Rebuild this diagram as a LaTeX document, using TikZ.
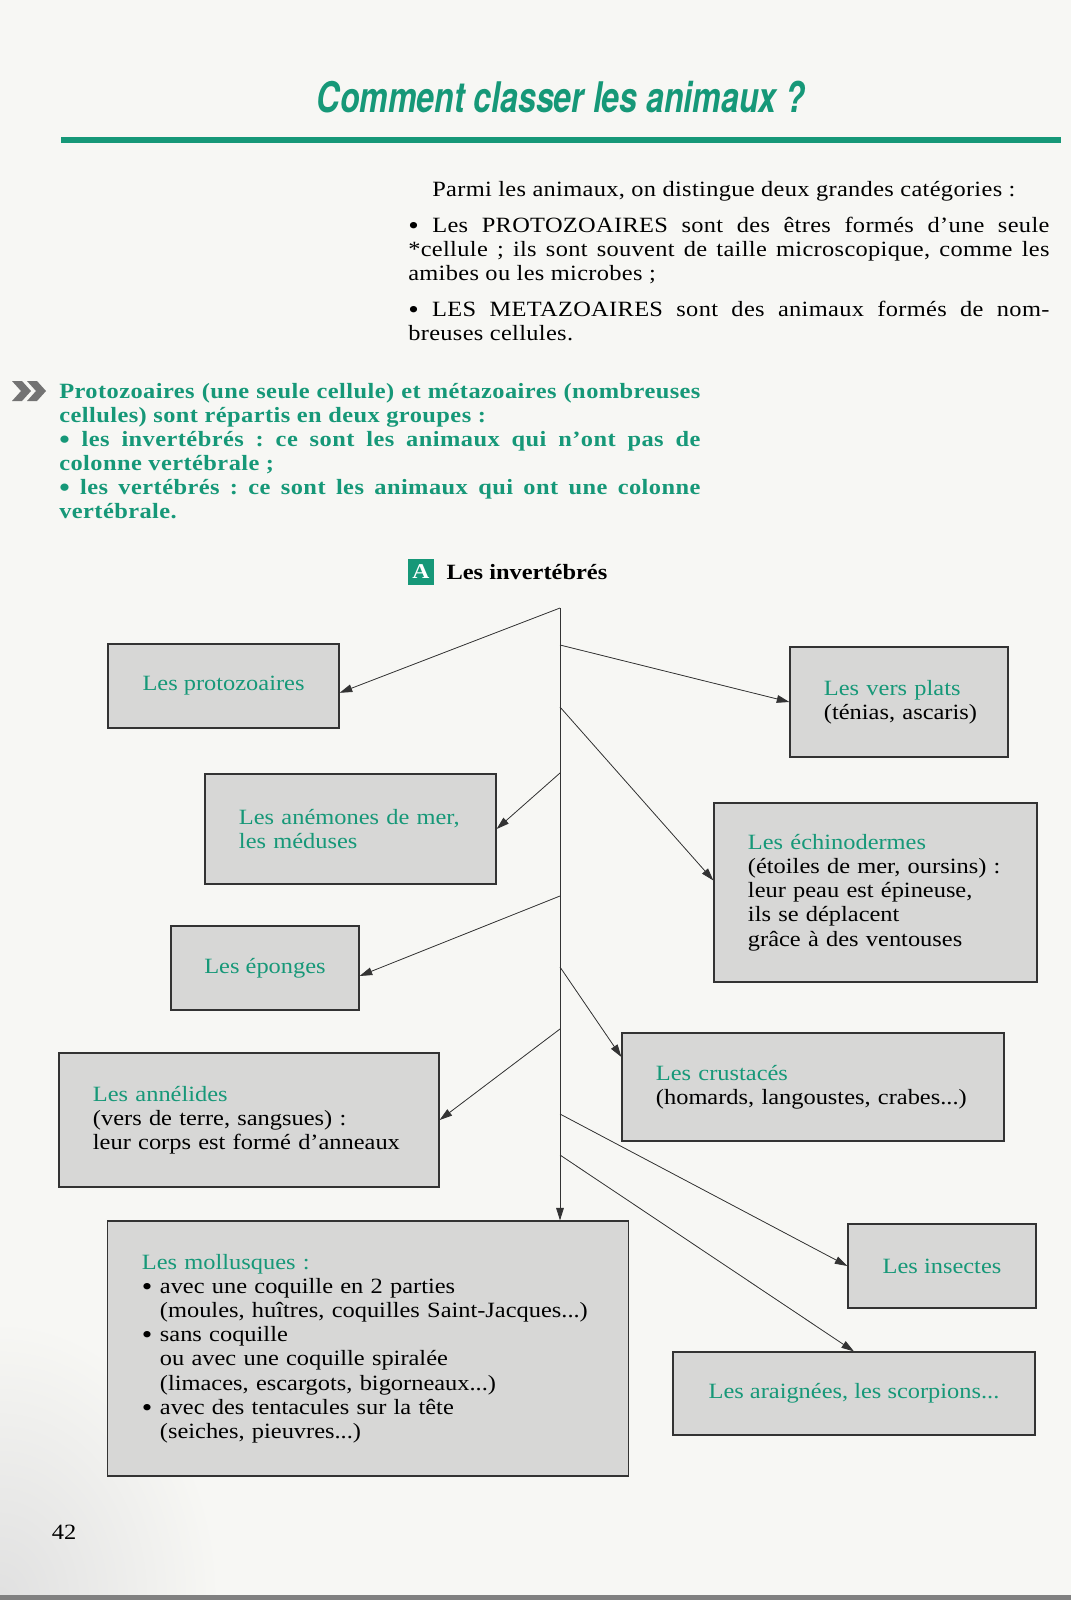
\documentclass[tikz,border=0pt]{standalone}
\usepackage{fontspec}
\setmainfont{Liberation Serif}[FakeStretch=1.12]
\newfontfamily\titrefont{TeX Gyre Heros}[FakeStretch=0.76]
\usepackage{xcolor}
\usetikzlibrary{arrows.meta, positioning}
\frenchspacing

\definecolor{vert}{RGB}{22,152,120}
\definecolor{fond}{RGB}{247,247,244}
\definecolor{gris}{RGB}{215,215,214}

\newcommand{\puce}{{\fontsize{19}{17}\selectfont\raisebox{-1.5pt}{•}}}

\begin{document}
\begin{tikzpicture}[
  x=0.025cm, y=-0.025cm,
  font=\fontsize{15.5}{17.2}\selectfont,
  boite/.style={
    draw=black!80, line width=0.8pt, fill=gris,
    align=left, inner xsep=0.85cm, inner ysep=0pt
  },
  boitec/.style={
    draw=black!80, line width=0.8pt, fill=gris,
    align=center, text=vert, inner sep=0pt
  },
  fleche/.style={
    -{Triangle[length=9pt, width=5.5pt]},
    line width=0.55pt, draw=black!80, fill=black!70
  },
  texte/.style={align=justify, inner sep=0pt, anchor=base west}
]
  \useasboundingbox (0,0) rectangle (1071,1600);
  \fill[fond] (0,0) rectangle (1071,1600);
  \shade[inner color=black!12, outer color=fond] (0,1600) ellipse [x radius=5.5cm, y radius=7cm];
  \fill[black!50] (0,1595) rectangle (1071,1600);

  % titre
  \node[font=\titrefont\bfseries\itshape\fontsize{30}{30}\selectfont, text=vert] (titre) at (561,97) {Comment classer les animaux ?};
  \fill[vert] (61,137) rectangle (1061,143);

  \node[texte, text width=16.025cm, font=\fontsize{15.5}{17.2}\selectfont\addfontfeature{LetterSpace=1.5}] (intro) at (408,196) {%
    \hspace*{0.6cm}Parmi les animaux, on distingue deux grandes catégories~:\par
    \vspace{8.5pt}\puce{} Les PROTOZOAIRES sont des êtres formés d'une seule\linebreak
    *cellule~; ils sont souvent de taille microscopique, comme les\linebreak
    amibes ou les microbes~;\par
    \vspace{8.5pt}\puce{} LES METAZOAIRES sont des animaux formés de nom-\linebreak
    breuses cellules.};

  % resume en vert
  \fill[black!55] (12,381) -- (22,381) -- (31,391) -- (22,401) -- (12,401) -- (21,391) -- cycle;
  \fill[black!55] (27,381) -- (37,381) -- (46,391) -- (37,401) -- (27,401) -- (36,391) -- cycle;
  \node[texte, text width=16.025cm, text=vert, font=\bfseries\fontsize{15.5}{17.1}\selectfont\addfontfeature{LetterSpace=2}] (resume) at (59,398) {%
    Protozoaires (une seule cellule) et métazoaires (nombreuses\linebreak
    cellules) sont répartis en deux groupes~:\par
    \puce{} les invertébrés~: ce sont les animaux qui n'ont pas de\linebreak
    colonne vertébrale~;\par
    \puce{} les vertébrés~: ce sont les animaux qui ont une colonne\linebreak
    vertébrale.};

  \node[fill=vert, text=white, font=\bfseries\fontsize{15}{15}\selectfont, minimum size=0.65cm, inner sep=0pt] (lettre) at (421,572) {A};
  \node[right=0.3cm of lettre, inner sep=0pt, font=\bfseries\fontsize{15.5}{16}\selectfont] (soustitre) {Les invertébrés};

  % les groupes
  \node[boitec, minimum width=5.775cm, minimum height=2.1cm] (proto) at (223.5,686) {Les protozoaires};
  \node[boite, text width=3.75cm, minimum height=2.75cm] (vers) at (899,702) {\textcolor{vert}{Les vers plats}\\\mbox{(ténias, ascaris)}};
  \node[boite, text width=5.575cm, minimum height=2.75cm, text=vert] (anem) at (350.5,829) {Les anémones de mer,\\les méduses};
  \node[boite, text width=6.375cm, minimum height=4.475cm] (echino) at (875.5,892.5) {\textcolor{vert}{Les échinodermes}\\\mbox{(étoiles de mer, oursins)~:}\\leur peau est épineuse,\\ils se déplacent\\grâce à des ventouses};
  \node[boitec, minimum width=4.7cm, minimum height=2.1cm] (epon) at (265,968) {Les éponges};
  \node[boite, text width=7.85cm, minimum height=2.7cm] (crust) at (813,1087) {\textcolor{vert}{Les crustacés}\\\mbox{(homards, langoustes, crabes...)}};
  \node[boite, text width=7.8cm, minimum height=3.35cm] (annel) at (249,1120) {\textcolor{vert}{Les annélides}\\(vers de terre, sangsues)~:\\\mbox{leur corps est formé d'anneaux}};
  \node[boitec, minimum width=4.7cm, minimum height=2.1cm] (insect) at (942,1266) {Les insectes};
  \node[boitec, minimum width=9.05cm, minimum height=2.075cm] (arai) at (854,1393.5) {Les araignées, les scorpions...};
  \node[boite, text width=11.3cm, minimum height=6.375cm] (moll) at (368,1348.5) {%
    \textcolor{vert}{Les mollusques~:}\\
    \makebox[0.45cm][l]{\puce}avec une coquille en 2 parties\\
    \hspace*{0.45cm}\mbox{(moules, huîtres, coquilles Saint-Jacques...)}\\
    \makebox[0.45cm][l]{\puce}sans coquille\\
    \hspace*{0.45cm}ou avec une coquille spiralée\\
    \hspace*{0.45cm}(limaces, escargots, bigorneaux...)\\
    \makebox[0.45cm][l]{\puce}avec des tentacules sur la tête\\
    \hspace*{0.45cm}(seiches, pieuvres...)};

  % le tronc et les fleches
  \coordinate (tronc) at (560,608);
  \coordinate (bvers) at (560,645);
  \coordinate (bechino) at (560,707);
  \coordinate (banem) at (560,773);
  \coordinate (bepon) at (560,896);
  \coordinate (bcrust) at (560,967);
  \coordinate (bannel) at (560,1029);
  \coordinate (binsect) at (560,1114);
  \coordinate (barai) at (560,1155);

  \draw[fleche] (tronc) -- (tronc |- moll.north);
  \draw[fleche] (tronc) -- ([yshift=-0.17cm]proto.east);
  \draw[fleche] (bvers) -- (vers.west);
  \draw[fleche] (bechino) -- ([yshift=0.3cm]echino.west);
  \draw[fleche] (banem) -- (anem.east);
  \draw[fleche] (bepon) -- ([yshift=-0.2cm]epon.east);
  \draw[fleche] (bcrust) -- ([yshift=0.75cm]crust.west);
  \draw[fleche] (bannel) -- (annel.east);
  \draw[fleche] (binsect) -- (insect.west);
  \draw[fleche] (barai) -- (arai.north);

  \node (page) at (64,1532) {42};
\end{tikzpicture}
\end{document}
